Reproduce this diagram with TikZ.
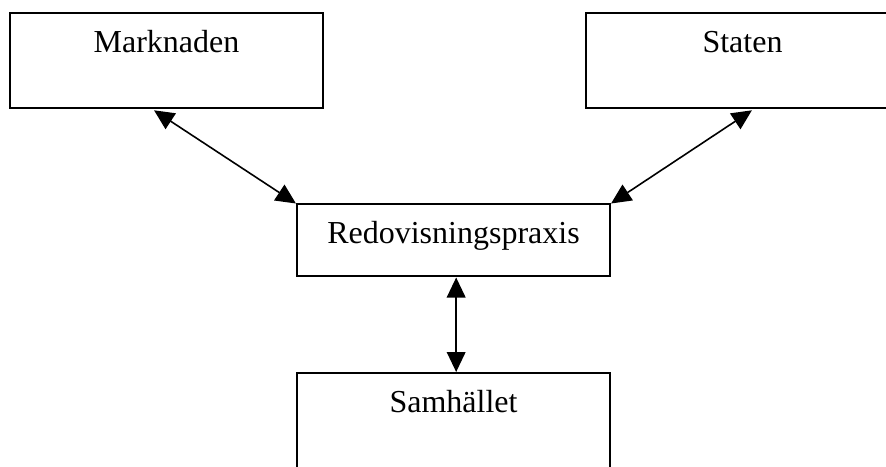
\documentclass[tikz,border=0pt]{standalone}
\usepackage{fontspec}
\setmainfont{Liberation Serif}
\usetikzlibrary{arrows.meta,positioning}

\begin{document}
\begin{tikzpicture}[x=0.375pt,y=-0.375pt,line join=miter,>={Triangle[length=7.5pt,width=7pt]},
  every node/.style={inner sep=0pt,font=\fontsize{12}{14}\selectfont},
  box/.style={draw,line width=0.75pt,minimum width=117.4pt},
  boxtext/.style={anchor=base}]
  \useasboundingbox (0,0) rectangle (886,467);
  \node[box,minimum height=35.6pt] (mark) at (166.5,60.5) {};
  \node[box,minimum height=35.6pt] (stat) at (742.5,60.5) {};
  \node[box,minimum height=27pt] (redo) at (453.5,240.5) {};
  \node[box,minimum height=45pt] (samh) at (453.5,433) {};
  \node[boxtext] (markt) at ([yshift=-15pt]mark.north) {Marknaden};
  \node[boxtext] (statt) at ([yshift=-15pt]stat.north) {Staten};
  \node[boxtext] (redot) at ([yshift=-15pt]redo.north) {Redovisningspraxis};
  \node[boxtext] (samht) at ([yshift=-15pt]samh.north) {Samhället};
  % pilar
  \draw[<->,line width=0.6pt] ([xshift=54.4pt,yshift=-0.5pt]mark.south west) -- (redo.north west);
  \draw[<->,line width=0.6pt] ([xshift=62.6pt,yshift=-0.5pt]stat.south west) -- (redo.north east);
  \draw[<->,line width=0.6pt] ([xshift=1pt]redo.south) -- ([xshift=1pt]samh.north);
\end{tikzpicture}
\end{document}
